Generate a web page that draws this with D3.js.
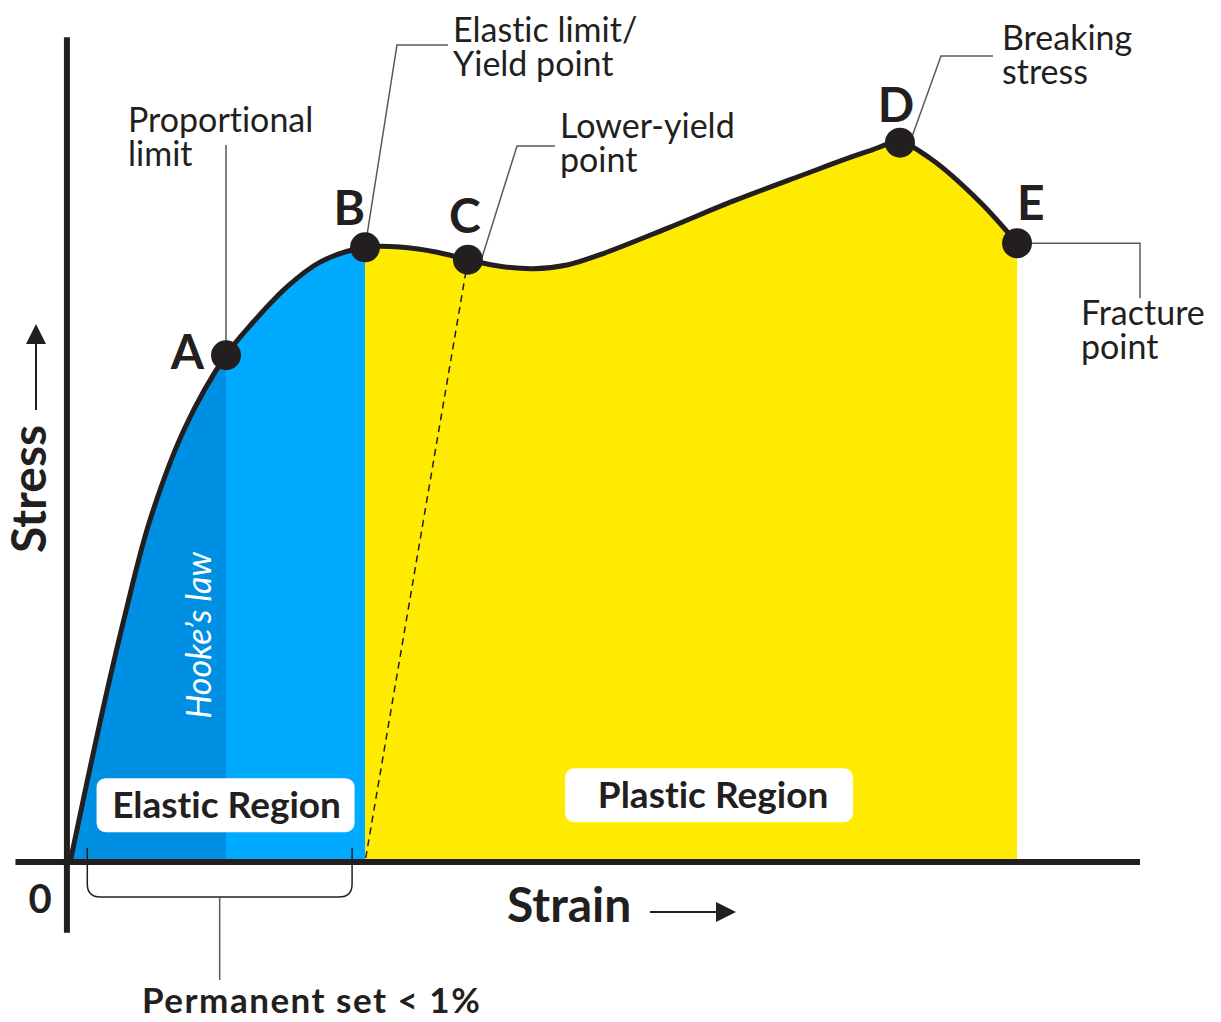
<!DOCTYPE html>
<html>
<head>
<meta charset="utf-8">
<script src="https://cdn.jsdelivr.net/npm/d3@7"></script>
<style>
  body { margin: 0; background: #fff; }
  svg text { font-family: Lato, "Open Sans", sans-serif; fill: #231f20; font-variant-ligatures: none; }
</style>
</head>
<body>
<div id="chart"></div>
<script>
// stress-strain curve (arbitrary units, 0-100 on both axes)
const strain = [0.2, 2.99, 5.32, 7.65, 10.91, 14.74, 17.26, 20.43, 23.51, 27.71, 31.25, 34.42, 37.31, 40.3, 43.38, 46.55, 49.63, 55.88, 62.03, 68.28, 74.53, 77.61, 80.41, 85.07, 88.53]
const stress = [0, 17.0, 30.0, 41.5, 52.7, 61.5, 65.5, 69.8, 72.8, 74.6, 74.6, 74.0, 73.1, 72.3, 72.0, 72.45, 73.7, 76.9, 80.2, 83.25, 86.2, 87.3, 85.4, 80.1, 75.1]

// labelled points (index into the curve)
const pointNames = ['A', 'B', 'C', 'D', 'E']
const pointIndex = [5, 9, 12, 21, 24]

const width = 1221
const height = 1022

const x = d3.scaleLinear().domain([0, 100]).range([68, 1140])
const y = d3.scaleLinear().domain([0, 100]).range([862, 38])

const data = strain.map((s, i) => ({ x: s, y: stress[i] }))
const pts = pointIndex.map((k, i) => ({ name: pointNames[i], x: strain[k], y: stress[k] }))
const A = pts[0], B = pts[1], C = pts[2], D = pts[3], E = pts[4]

const ink = '#231f20'
const lead = '#58595b'

const svg = d3.select('#chart').append('svg')
    .attr('width', width)
    .attr('height', height)

const defs = svg.append('defs')

// clip rects for the three coloured bands under the curve
const bands = [
    { id: 'hooke', from: 0, to: A.x, color: '#0090e3' },
    { id: 'elastic', from: A.x, to: B.x, color: '#00aaff' },
    { id: 'plastic', from: B.x, to: E.x, color: '#ffeb00' }
]
bands.forEach(b => {
    defs.append('clipPath').attr('id', 'clip-' + b.id)
        .append('rect')
        .attr('x', x(b.from)).attr('y', 0)
        .attr('width', x(b.to) - x(b.from)).attr('height', y(0))
})

const curve = d3.curveCatmullRom.alpha(0.5)

const area = d3.area()
    .x(d => x(d.x))
    .y0(y(0))
    .y1(d => y(d.y))
    .curve(curve)

const line = d3.line()
    .x(d => x(d.x))
    .y(d => y(d.y))
    .curve(curve)

bands.forEach(b => {
    svg.append('path')
        .datum(data)
        .attr('d', area)
        .attr('fill', b.color)
        .attr('clip-path', `url(#clip-${b.id})`)
})

// dashed unloading line from C back to the strain axis
svg.append('line')
    .attr('x1', x(C.x)).attr('y1', y(C.y))
    .attr('x2', x(B.x)).attr('y2', y(0))
    .attr('stroke', ink)
    .attr('stroke-width', 1.5)
    .attr('stroke-dasharray', '7,5')

// Hooke's law
svg.append('text')
    .attr('transform', `translate(211,${y(27.5)}) rotate(-90)`)
    .attr('text-anchor', 'middle')
    .style('font-style', 'italic')
    .style('font-weight', 400)
    .style('font-size', '34px')
    .style('fill', '#fff')
    .text('Hooke\u2019s law')

// region boxes
const regions = [
    { label: 'Elastic Region', cx: x(14.7), cy: y(6.9), w: 258, tx: 1 },
    { label: 'Plastic Region', cx: x(59.8), cy: y(8.1), w: 288, tx: 4 }
]
regions.forEach(r => {
    svg.append('rect')
        .attr('x', r.cx - r.w / 2).attr('y', r.cy - 27)
        .attr('width', r.w).attr('height', 54)
        .attr('rx', 9)
        .attr('fill', '#fff')
    svg.append('text')
        .attr('x', r.cx + r.tx).attr('y', r.cy + 13)
        .attr('text-anchor', 'middle')
        .style('font-weight', 700)
        .style('font-size', '37px')
        .text(r.label)
})

// axes
svg.append('line')
    .attr('x1', x(-4.9)).attr('x2', x(100))
    .attr('y1', y(0)).attr('y2', y(0))
    .attr('stroke', ink).attr('stroke-width', 6)
svg.append('line')
    .attr('x1', x(-0.1)).attr('x2', x(-0.1))
    .attr('y1', y(100.1)).attr('y2', y(-8.6))
    .attr('stroke', ink).attr('stroke-width', 6)

svg.append('text')
    .attr('x', 40).attr('y', 913)
    .attr('text-anchor', 'middle')
    .style('font-weight', 700)
    .style('font-size', '40px')
    .text('0')

// curve
svg.append('path')
    .datum(data)
    .attr('d', line)
    .attr('fill', 'none')
    .attr('stroke', ink)
    .attr('stroke-width', 5)

// leader lines
const leaders = [
    [[x(A.x), y(A.y)], [x(A.x), 145]],
    [[x(B.x), y(B.y)], [397, 45], [448, 45]],
    [[x(C.x) + 14, y(C.y) - 2], [517, 146], [555, 146]],
    [[x(D.x) + 12, y(D.y) - 6], [941, 56], [993, 56]],
    [[x(E.x), y(E.y)], [1140, y(E.y)], [1140, 298]]
]
leaders.forEach(l => {
    svg.append('path')
        .attr('d', d3.line()(l))
        .attr('fill', 'none')
        .attr('stroke', lead)
        .attr('stroke-width', 1.5)
})

// callout texts
const callouts = [
    { lines: ['Proportional', 'limit'], x: 128, y: 132 },
    { lines: ['Elastic limit/', 'Yield point'], x: 453, y: 42 },
    { lines: ['Lower-yield', 'point'], x: 560, y: 138 },
    { lines: ['Breaking', 'stress'], x: 1002, y: 50 },
    { lines: ['Fracture', 'point'], x: 1081, y: 325 }
]
callouts.forEach(c => {
    const t = svg.append('text')
        .attr('x', c.x).attr('y', c.y)
        .style('font-size', '34px')
    c.lines.forEach((s, i) => {
        t.append('tspan')
            .attr('x', c.x)
            .attr('dy', i === 0 ? 0 : 34)
            .text(s)
    })
})

// points + letters
const letterPos = {
    A: { dx: -22, dy: 14, anchor: 'end' },
    B: { dx: 0, dy: -22, anchor: 'end' },
    C: { dx: -3, dy: -27, anchor: 'middle' },
    D: { dx: -4, dy: -21, anchor: 'middle' },
    E: { dx: 0, dy: -23, anchor: 'start' }
}
svg.append('g')
    .selectAll('circle')
    .data(pts)
    .enter()
    .append('circle')
    .attr('cx', d => x(d.x))
    .attr('cy', d => y(d.y))
    .attr('r', 15)
    .attr('fill', ink)

svg.append('g')
    .selectAll('text')
    .data(pts)
    .enter()
    .append('text')
    .attr('x', d => x(d.x) + letterPos[d.name].dx)
    .attr('y', d => y(d.y) + letterPos[d.name].dy)
    .attr('text-anchor', d => letterPos[d.name].anchor)
    .style('font-weight', 700)
    .style('font-size', '48px')
    .text(d => d.name)

// axis titles with arrows
svg.append('text')
    .attr('x', 507).attr('y', 922)
    .style('font-weight', 700)
    .style('font-size', '48px')
    .text('Strain')
svg.append('line')
    .attr('x1', 650).attr('x2', 720)
    .attr('y1', 912).attr('y2', 912)
    .attr('stroke', ink).attr('stroke-width', 2)
svg.append('path')
    .attr('d', 'M716,902 L736,912 L716,922 Z')
    .attr('fill', ink)

svg.append('text')
    .attr('transform', 'translate(46,489) rotate(-90)')
    .attr('text-anchor', 'middle')
    .style('font-weight', 700)
    .style('font-size', '48px')
    .text('Stress')
svg.append('line')
    .attr('x1', 36).attr('x2', 36)
    .attr('y1', 410).attr('y2', 340)
    .attr('stroke', ink).attr('stroke-width', 2)
svg.append('path')
    .attr('d', 'M26,344 L36,324 L46,344 Z')
    .attr('fill', ink)

// permanent set bracket
const bx0 = x(1.8), bx1 = x(26.5), by0 = y(1.7), by1 = 897, r = 13
const bmid = (bx0 + bx1) / 2
svg.append('path')
    .attr('d', `M${bx0},${by0} V${by1 - r} Q${bx0},${by1} ${bx0 + r},${by1} H${bx1 - r} Q${bx1},${by1} ${bx1},${by1 - r} V${by0}`)
    .attr('fill', 'none')
    .attr('stroke', ink)
    .attr('stroke-width', 1.5)
svg.append('line')
    .attr('x1', bmid).attr('x2', bmid)
    .attr('y1', by1).attr('y2', 980)
    .attr('stroke', lead).attr('stroke-width', 1.5)
svg.append('text')
    .attr('x', 142).attr('y', 1013)
    .style('font-weight', 700)
    .style('font-size', '35px')
    .style('letter-spacing', '1.5px')
    .text('Permanent set < 1%')
</script>
</body>
</html>
